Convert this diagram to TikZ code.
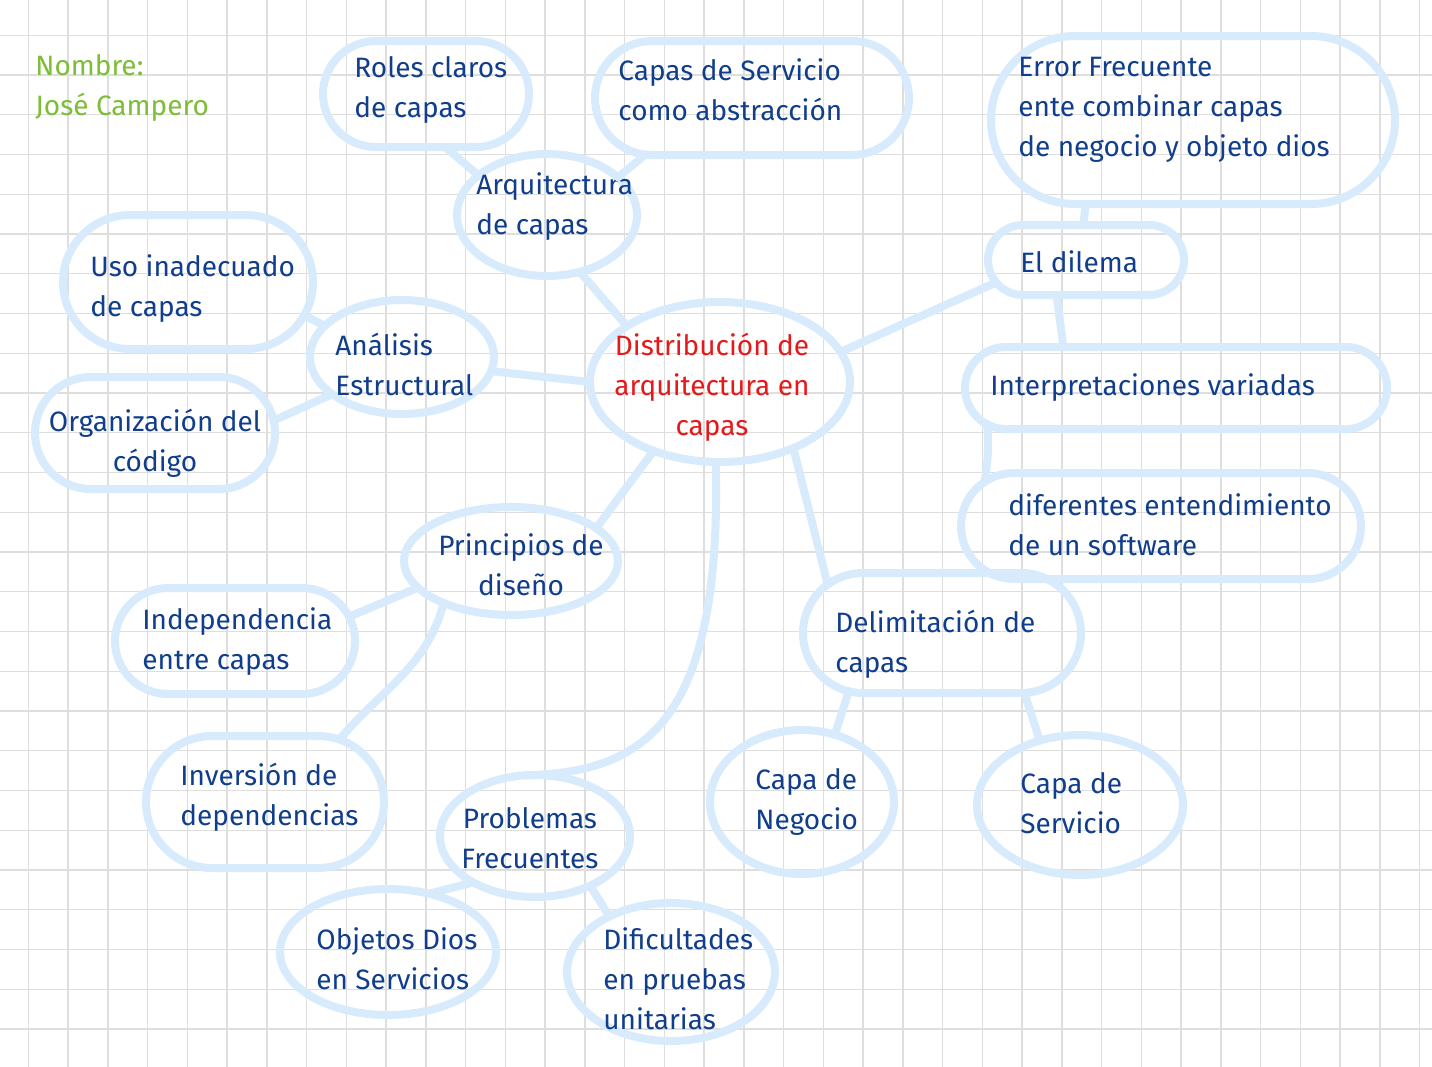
\documentclass[tikz,border=0pt]{standalone}
\usepackage{fontspec}
\setmainfont{Fira Sans}
\usetikzlibrary{shapes.geometric,shapes.misc}
\definecolor{blobc}{RGB}{216,235,252}
\definecolor{ink}{RGB}{16,62,140}
\definecolor{inkred}{RGB}{230,25,25}
\definecolor{inkgreen}{RGB}{125,190,55}
\definecolor{gridc}{RGB}{222,222,222}
\tikzset{
  blob/.style={ellipse, draw=blobc, line width=4pt, inner sep=0pt, outer sep=0pt},
  rblob/.style={rounded rectangle, draw=blobc, line width=4pt, inner sep=0pt, outer sep=0pt},
  link/.style={draw=blobc, line width=4pt, line cap=round},
  txt/.style={text=ink, font=\fontsize{14}{20}\selectfont, align=left, inner sep=0pt, anchor=west},
  ctxt/.style={txt, align=center, anchor=center},
  gridline/.style={draw=gridc, line width=0.7pt},
}
\begin{document}
\begin{tikzpicture}[x=0.5pt,y=-0.5pt]
\fill[white] (0,0) rectangle (1432,1067);
\useasboundingbox (0,0) rectangle (1432,1067);
% grid
\foreach \i in {0,...,35} \draw[gridline] ({28.3+39.75*\i},0) -- ({28.3+39.75*\i},1067);
\foreach \j in {0,...,25} \draw[gridline] (0,{35.2+39.75*\j}) -- (1432,{35.2+39.75*\j});

% name
\node[txt, text=inkgreen] (name) at (35,88) {Nombre:\\José Campero};

% blobs
\node[rblob, minimum width=103pt, minimum height=53pt] (roles) at (426,94) {};
\node[rblob, minimum width=157pt, minimum height=57pt] (servicio) at (752,98) {};
\node[rblob, minimum width=202pt, minimum height=84pt] (error) at (1193,120) {};
\node[blob, minimum width=90pt, minimum height=61pt] (arq) at (547,215) {};
\node[rblob, minimum width=98pt, minimum height=35pt] (dilema) at (1086,260) {};
\node[rblob, minimum width=125pt, minimum height=67pt] (uso) at (188,282) {};
\node[blob, minimum width=92pt, minimum height=57pt] (analisis) at (402,357) {};
\node[blob, minimum width=130pt, minimum height=80pt] (center) at (720,382) {};
\node[rblob, minimum width=211pt, minimum height=41pt] (interp) at (1176,388) {};
\node[rblob, minimum width=120pt, minimum height=56pt] (org) at (155,433) {};
\node[rblob, minimum width=200pt, minimum height=53pt] (dif) at (1161,526) {};
\node[blob, minimum width=107pt, minimum height=54pt] (principios) at (511,561) {};
\node[rblob, minimum width=120pt, minimum height=53pt] (indep) at (235,641) {};
\node[rblob, minimum width=139pt, minimum height=60pt] (delim) at (942,633) {};
\node[rblob, minimum width=119pt, minimum height=66pt] (inversion) at (265,802) {};
\node[blob, minimum width=95pt, minimum height=61pt] (problemas) at (535,836) {};
\node[blob, minimum width=92pt, minimum height=72pt] (negocio) at (802,802) {};
\node[blob, minimum width=103pt, minimum height=70pt] (capaserv) at (1080,805) {};
\node[blob, minimum width=108pt, minimum height=63pt] (dios) at (388,952) {};
\node[blob, minimum width=104pt, minimum height=69pt] (dificul) at (671,972) {};

% texts
\node[txt] (roles-t) at (354,90) {Roles claros\\de capas};
\node[txt] (servicio-t) at (618,90) {Capas de Servicio\\como abstracción};
\node[txt] (error-t) at (1018,110) {Error Frecuente\\ente combinar capas\\de negocio y objeto dios};
\node[txt] (arq-t) at (476,207) {Arquitectura\\de capas};
\node[txt] (dilema-t) at (1020,262) {El dilema};
\node[txt] (uso-t) at (90,289) {Uso inadecuado\\de capas};
\node[txt] (analisis-t) at (335,364) {Análisis\\Estructural};
\node[ctxt, text=inkred] (center-t) at (712,387) {Distribución de\\arquitectura en\\capas};
\node[txt] (interp-t) at (990,388) {Interpretaciones variadas};
\node[ctxt] (org-t) at (155,443) {Organización del\\código};
\node[txt] (dif-t) at (1008,525) {diferentes entendimiento\\de un software};
\node[ctxt] (principios-t) at (521,565) {Principios de\\diseño};
\node[txt] (indep-t) at (142,642) {Independencia\\entre capas};
\node[txt] (delim-t) at (835,644) {Delimitación de\\capas};
\node[txt] (inversion-t) at (180,797) {Inversión de\\dependencias};
\node[ctxt] (problemas-t) at (530,838) {Problemas\\Frecuentes};
\node[txt] (negocio-t) at (755,802) {Capa de\\Negocio};
\node[txt] (capaserv-t) at (1020,803) {Capa de\\Servicio};
\node[txt] (dios-t) at (316,959) {Objetos Dios\\en Servicios};
\node[txt] (dificul-t) at (603,979) {Dificultades\\en pruebas\\unitarias};

% connectors
\draw[link] (roles.-70) -- (arq.150);
\draw[link] (servicio.208) -- (arq.28);
\draw[link] (arq.-60) -- (center.149);
\draw[link] (analisis.-9) -- (center.180);
\draw[link] (uso.-16) -- (analisis.158);
\draw[link] (org.6) -- (analisis.208);
\draw[link] (center.14) -- (dilema.194);
\draw[link] (error.-142) -- (dilema.94);
\draw[link] (dilema.-130) -- (interp.160);
\draw[link] (interp.-169) to[out=-88,in=80] (dif.166);
\draw[link] (center.-134) -- (principios.21);
\draw[link] (center.-42) -- (delim.157);
\draw[link] (center.-93) .. controls (722,730) and (640,772) .. (problemas.100);
\draw[link] (principios.196) -- (indep.12);
\draw[link] (principios.212) to[out=-105,in=50] (inversion.40);
\draw[link] (delim.212) -- (negocio.64);
\draw[link] (delim.-36) -- (capaserv.122);
\draw[link] (problemas.217) -- (dios.55);
\draw[link] (problemas.-42) -- (dificul.138);
\end{tikzpicture}
\end{document}
